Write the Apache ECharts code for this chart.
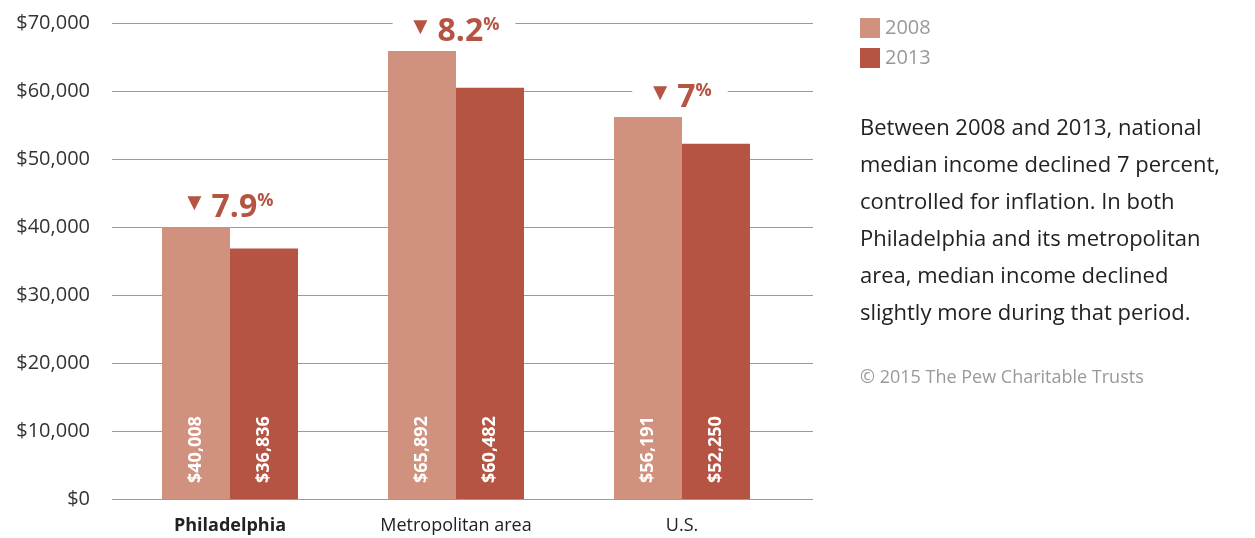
<!DOCTYPE html>
<html>
<head>
<meta charset="utf-8">
<script src="https://cdn.jsdelivr.net/npm/echarts@6/dist/echarts.min.js"></script>
<style>
  html, body { margin: 0; padding: 0; background: #fff; }
  #main { width: 1255px; height: 538px; }
</style>
</head>
<body>
<div id="main"></div>
<script>
var chart = echarts.init(document.getElementById('main'));

var categories = ['Philadelphia', 'Metropolitan area', 'U.S.'];
var income2008 = [40008, 65892, 56191];
var income2013 = [36836, 60482, 52250];
var declines = ['7.9', '8.2', '7'];
var yTicks = { min: 0, max: 70000, interval: 10000 };

var light = '#d0917f';
var dark = '#b55443';
var font = 'Open Sans';

function money(v) {
	return '$' + v.toLocaleString('en-US');
}

var valueLabel = {
	show: true,
	position: 'insideBottom',
	rotate: 90,
	align: 'left',
	verticalAlign: 'middle',
	distance: 16,
	color: '#fff',
	fontFamily: font,
	fontWeight: 'bold',
	fontSize: 18,
	formatter: function (p) { return money(p.value); }
};

var option = {
	animation: false,
	textStyle: { fontFamily: font },
	grid: [
		{ left: 112, right: 442, top: 23, bottom: 39 }, // gridlines
		{ left: 117, right: 460, top: 23, bottom: 39 }  // bars
	],
	xAxis: [
		{ gridIndex: 0, type: 'value', show: false },
		{
			gridIndex: 1,
			type: 'category',
			data: categories,
			axisLine: { show: false },
			axisTick: { show: false },
			axisLabel: {
				margin: 18,
				fontSize: 18,
				color: '#222',
				fontFamily: font,
				formatter: function (v, i) { return i === 0 ? '{b|' + v + '}' : v; },
				rich: { b: { fontWeight: 'bold', fontSize: 18, color: '#222', fontFamily: font } }
			}
		}
	],
	yAxis: [
		{
			gridIndex: 0,
			type: 'value',
			min: yTicks.min,
			max: yTicks.max,
			interval: yTicks.interval,
			axisLine: { show: false },
			axisTick: { show: false },
			axisLabel: {
				margin: 22,
				fontSize: 20,
				color: '#333',
				fontFamily: font,
				formatter: function (v) { return money(v); }
			},
			splitLine: { lineStyle: { color: '#9a9a9a', width: 1 } }
		},
		{
			gridIndex: 1,
			type: 'value',
			min: yTicks.min,
			max: yTicks.max,
			show: false
		}
	],
	legend: {
		orient: 'vertical',
		left: 860,
		top: 18,
		padding: 0,
		itemWidth: 20,
		itemHeight: 20,
		itemGap: 10,
		icon: 'rect',
		textStyle: { color: '#999', fontSize: 20, fontFamily: font }
	},
	title: [
		{
			left: 860,
			top: 110,
			padding: 0,
			text: 'Between 2008 and 2013, national\nmedian income declined 7 percent,\ncontrolled for inflation. In both\nPhiladelphia and its metropolitan\narea, median income declined\nslightly more during that period.',
			textStyle: { color: '#222', fontSize: 22, fontWeight: 'normal', lineHeight: 37, fontFamily: font }
		},
		{
			left: 860,
			top: 369,
			padding: 0,
			text: '\u00a9 2015 The Pew Charitable Trusts',
			textStyle: { color: '#999', fontSize: 18, fontWeight: 'normal', fontFamily: font }
		}
	],
	series: [
		{
			name: '2008',
			type: 'bar',
			xAxisIndex: 1,
			yAxisIndex: 1,
			barWidth: 68,
			barGap: '0%',
			itemStyle: { color: light },
			label: valueLabel,
			data: income2008,
			markPoint: {
				symbol: 'rect',
				symbolSize: 1,
				itemStyle: { color: 'rgba(0,0,0,0)' },
				label: {
					show: true,
					position: 'top',
					distance: 3,
					offset: [32, 0],
					backgroundColor: '#fff',
					padding: [0, 16],
					formatter: function (p) { return '{t|\u25bc} {n|' + p.value + '}{p|%}'; },
					rich: {
						t: { color: dark, fontSize: 24, verticalAlign: 'top', padding: [0, 2, 0, 0] },
						n: { color: dark, fontSize: 32, fontWeight: 'bold', fontFamily: font },
						p: { color: dark, fontSize: 18, fontWeight: 'bold', verticalAlign: 'top', fontFamily: font }
					}
				},
				data: categories.map(function (c, i) {
					return { coord: [c, income2008[i]], value: declines[i] };
				})
			}
		},
		{
			name: '2013',
			type: 'bar',
			xAxisIndex: 1,
			yAxisIndex: 1,
			barWidth: 68,
			barGap: '0%',
			itemStyle: { color: dark },
			label: valueLabel,
			data: income2013
		}
	]
};

chart.setOption(option);
</script>
</body>
</html>
